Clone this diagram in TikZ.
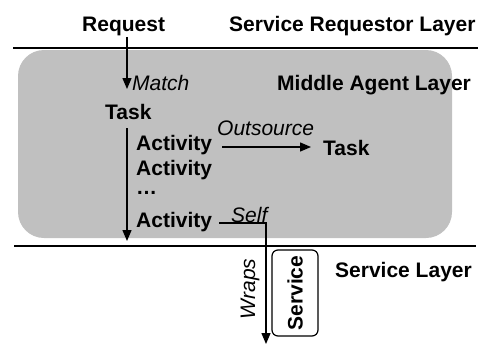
\documentclass[tikz,border=0pt]{standalone}
\usepackage{fontspec}
\setmainfont{Liberation Sans}
\usetikzlibrary{arrows.meta}
\definecolor{agentgray}{HTML}{C0C0C0}
\begin{document}
\begin{tikzpicture}[x=1pt,y=-1pt,
  lbl/.style={font=\fontsize{21}{24}\selectfont\bfseries, inner sep=0pt, anchor=base west},
  ital/.style={font=\fontsize{21}{24}\selectfont\itshape, inner sep=0pt, anchor=base west},
  link/.style={line width=1.4pt, -{Triangle[length=11pt,width=9pt]}},
  rule/.style={line width=1.2pt}]
\useasboundingbox (0,0) rectangle (486,345);

% middle agent layer background
\fill[agentgray, rounded corners=26pt] (18,50) rectangle (452,238);

% layer separators
\draw[rule] (13,48) -- (478,48);
\draw[rule] (14,246) -- (476,246);

% labels
\node[lbl] (request) at (82,32) {Request};
\node[lbl] (reqlayer) at (229,32) {Service Requestor Layer};
\node[ital] (match) at (132,90) {Match};
\node[lbl] (midlayer) at (277,90) {Middle Agent Layer};
\node[lbl] (task1) at (105,119) {Task};
\node[ital] (outsource) at (217,135) {Outsource};
\node[lbl] (act1) at (136,150) {Activity};
\node[lbl] (task2) at (323,155) {Task};
\node[lbl] (act2) at (136,175) {Activity};
\node[lbl] (dots) at (136,194) {…};
\node[ital] (self) at (231,222) {Self};
\node[lbl] (act3) at (136,227) {Activity};
\node[lbl] (svclayer) at (335,277) {Service Layer};
\node[ital, anchor=center, rotate=90] (wraps) at (250,289) {Wraps};
\node[draw, line width=1.2pt, rounded corners=6pt, rotate=90,
      minimum width=86pt, minimum height=46pt, inner sep=0pt,
      font=\fontsize{21}{24}\selectfont\bfseries] (service) at (295,293) {Service};

% connector end points
\coordinate (reqtop) at (127,37);
\coordinate (matchtip) at (127,89);
\coordinate (flowtop) at (127,128);
\coordinate (flowtip) at (127,241);
\coordinate (outstart) at (222,147);
\coordinate (outtip) at (311,147);
\coordinate (selfstart) at (219,223);
\coordinate (selfturn) at (266,223);
\coordinate (wrapstip) at (266,344);

% connectors
\draw[link] (reqtop) -- (matchtip);
\draw[link] (flowtop) -- (flowtip);
\draw[link] (outstart) -- (outtip);
\draw[link] (selfstart) -- (selfturn) -- (wrapstip);
\end{tikzpicture}
\end{document}
